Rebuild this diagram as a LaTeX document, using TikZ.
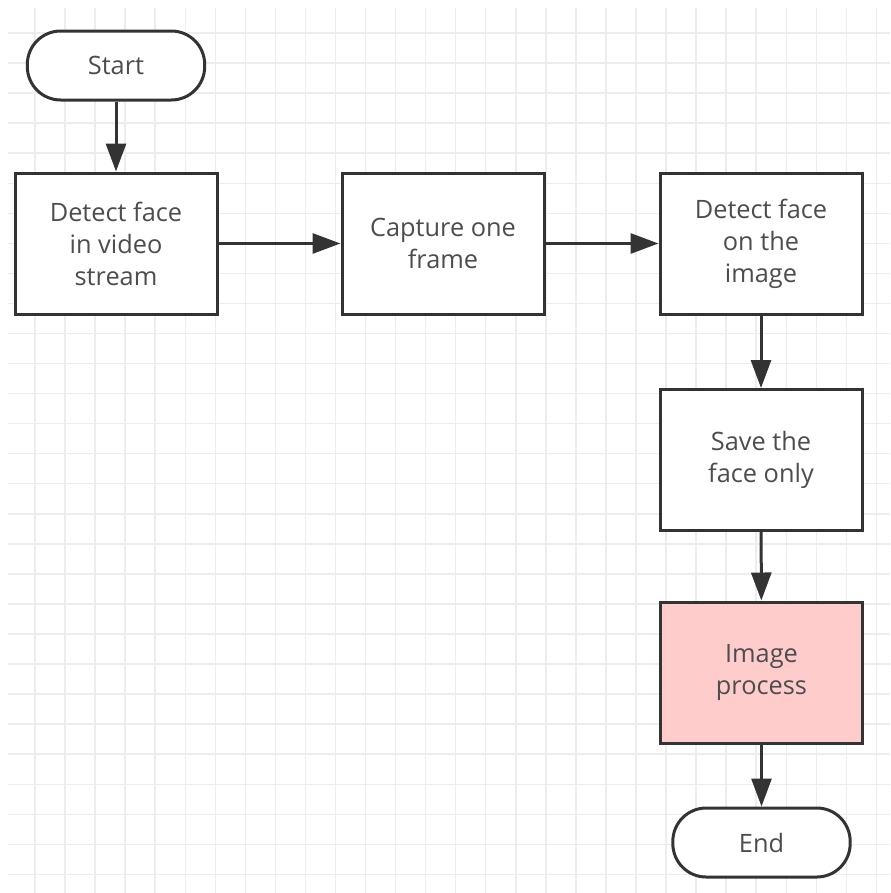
\documentclass[tikz,border=0pt]{standalone}
\usepackage{fontspec}
\setmainfont{Open Sans}
\usetikzlibrary{arrows.meta}
\definecolor{linegray}{HTML}{333333}
\definecolor{textgray}{HTML}{4D4D4D}
\definecolor{gridgray}{HTML}{EDEDED}
\definecolor{pinkfill}{HTML}{FFCCCC}
\begin{document}
\begin{tikzpicture}[x=0.75pt,y=-0.75pt,
    box/.style={draw=linegray,line width=2.25pt,fill=white,text=textgray,
      minimum width=151.5pt,minimum height=105.75pt,inner sep=0pt,
      align=center,font=\fontsize{19}{24}\selectfont},
    terminal/.style={box,minimum width=133pt,minimum height=51.75pt,rounded corners=25pt},
    flow/.style={draw=linegray,line width=2.25pt,-{Triangle[length=21pt,width=15pt]}}]
            \useasboundingbox (0,0) rectangle (890,893);
            \fill[white] (0,0) rectangle (890,893);
            \foreach \i in {0,...,28} {
                \draw[gridgray,line width=1.1pt] (35+30.05*\i,8) -- (35+30.05*\i,893);
                \draw[gridgray,line width=1.1pt] (8,33+30.05*\i) -- (890,33+30.05*\i);
            }

            \node (start) at (116,65.5) [terminal] {Start};
            \node (detectvideo) at (116,243.5) [box] {Detect face\\in video\\stream};
            \node (capture) at (443,243.5) [box] {Capture one\\frame};
            \node (detectimage) at (761,243.5) [box] {Detect face\\on the\\image};
            \node (saveface) at (761,460) [box] {Save the\\face only};
            \node (process) at (761.5,672.5) [box,fill=pinkfill] {Image\\process};
            \node (end) at (761.5,842.5) [terminal] {End};

            \draw[flow] (start) -- (detectvideo);
            \draw[flow] (detectvideo) -- (capture);
            \draw[flow] (capture) -- (detectimage);
            \draw[flow] (detectimage) -- (saveface);
            \draw[flow] (saveface) -- (process);
            \draw[flow] (process) -- (end);

        \end{tikzpicture}
\end{document}
